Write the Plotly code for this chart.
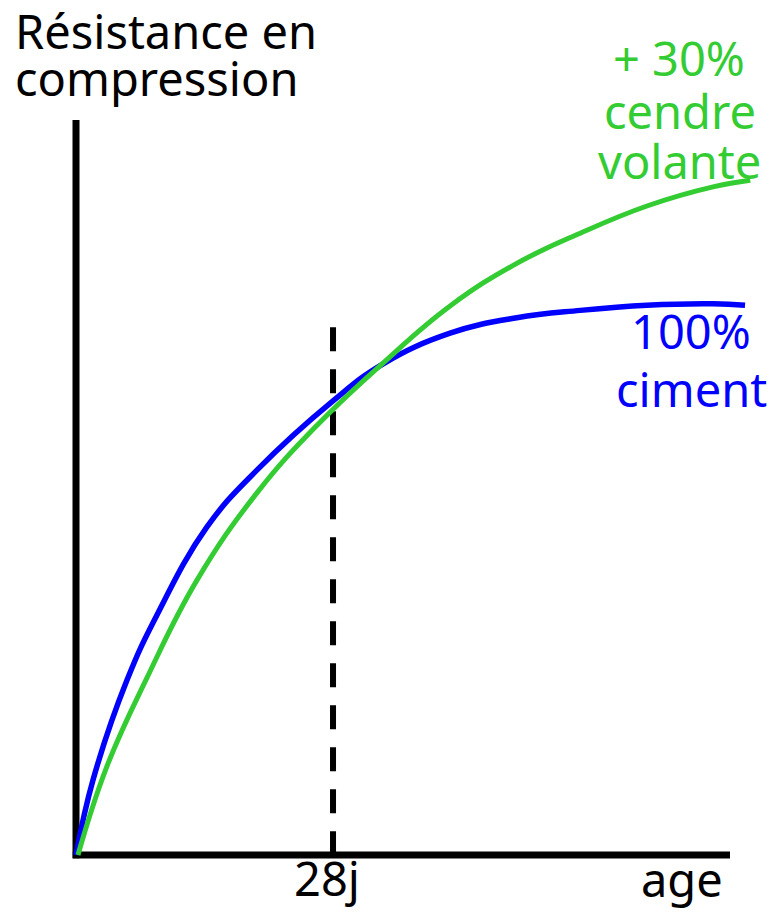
import plotly.graph_objects as go

# --- data (arbitrary units: age 0..100, resistance 0..100) ---
blue_age = [0, 2.6, 7.8, 12.4, 20.0, 27.7, 39.3, 46.9, 57.2, 67.4, 77.1, 87.3, 97.4, 102.3]
blue_res = [0, 10.2, 23.8, 32.7, 44.6, 52.4, 61.8, 66.8, 71.0, 73.1, 74.1, 74.8, 75.0, 74.8]
green_age = [0.3, 4.7, 10.9, 18.5, 27.7, 36.9, 46.9, 57.2, 67.4, 77.1, 87.3, 97.4, 103.1]
green_res = [0, 12.0, 24.2, 37.4, 49.3, 58.5, 66.9, 74.7, 80.5, 84.6, 88.3, 90.9, 91.8]
age_28j = 39.3
dash_top = 71.8
axis_max_x = 100
axis_max_y = 100

BLUE = "#0000FF"
GREEN = "#33CC33"
FONT = "Noto Sans"
FS = 47

# The page body has an 8px margin: draw the figure 8px smaller and shift coordinates.
OFF = 8
W, H = 776 - OFF, 913 - OFF
L, R, T, B = 60 - OFF, 6, 110 - OFF, 43

def px(xp):
    return (xp - OFF - L) / (W - L - R)
def py(yp):
    return (H - B - (yp - OFF)) / (H - T - B)

fig = go.Figure()
fig.add_trace(go.Scatter(x=blue_age, y=blue_res, mode="lines",
                         line=dict(color=BLUE, width=5.5, shape="spline", smoothing=1.2),
                         hoverinfo="skip", showlegend=False))
fig.add_trace(go.Scatter(x=green_age, y=green_res, mode="lines",
                         line=dict(color=GREEN, width=5, shape="spline", smoothing=1.2),
                         hoverinfo="skip", showlegend=False))

# axes lines
fig.add_shape(type="line", x0=0, x1=0, y0=-0.45, y1=axis_max_y,
              line=dict(color="black", width=7), layer="below")
fig.add_shape(type="line", x0=-0.5, x1=axis_max_x, y0=0, y1=0,
              line=dict(color="black", width=7), layer="below")
# dashed 28 days line
fig.add_shape(type="line", x0=age_28j, x1=age_28j, y0=dash_top, y1=0,
              line=dict(color="black", width=6, dash="24px,18px"), layer="below")

def txt(s, xp, base, color="black", anchor="center"):
    fig.add_annotation(text=s, x=px(xp), y=py(base - 19), xref="paper", yref="paper",
                       xanchor=anchor, yanchor="middle", showarrow=False,
                       font=dict(family=FONT, size=FS, color=color))

txt("Résistance en", 13, 50, anchor="left")
txt("compression", 13, 97, anchor="left")
txt("+ 30%", 679, 77, GREEN)
txt("cendre", 680, 130, GREEN)
txt("volante", 679, 180, GREEN)
txt("100%", 691, 350, BLUE)
txt("ciment", 691, 408, BLUE)
txt("28j", 327, 897)
txt("age", 682, 898)

x_lo = (60 - 76) / 6.54
x_hi = (770 - 76) / 6.54
y_lo = (855 - 870) / 7.35
y_hi = (855 - 110) / 7.35

fig.update_layout(
    width=W, height=H, margin=dict(l=L, r=R, t=T, b=B),
    paper_bgcolor="white", plot_bgcolor="white",
    xaxis=dict(range=[x_lo, x_hi], visible=False, fixedrange=True),
    yaxis=dict(range=[y_lo, y_hi], visible=False, fixedrange=True),
)
fig.write_html("out.html")
